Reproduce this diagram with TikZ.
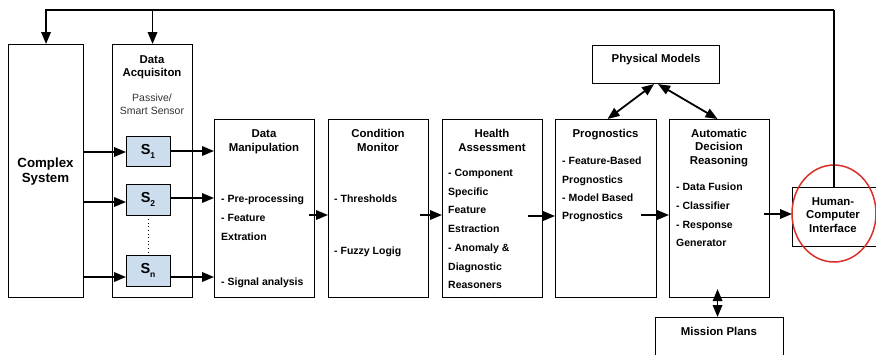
\documentclass[tikz,border=0pt]{standalone}
\usepackage{fontspec}
\setmainfont{Liberation Sans}
\usetikzlibrary{arrows.meta,shapes.geometric,calc}
\definecolor{sfill}{HTML}{CCDDEE}
\definecolor{ringred}{HTML}{D9302A}
\begin{document}
\begin{tikzpicture}[x=1pt,y=-1pt,
 box/.style={draw, line width=1.1pt, anchor=north west, inner sep=0pt},
 sbox/.style={box, fill=sfill},
 arr/.style={line width=1.8pt, -{Triangle[length=12pt,width=9.5pt]}},
 darr/.style={line width=1.8pt, {Triangle[length=12pt,width=9.5pt]}-{Triangle[length=12pt,width=9.5pt]}},
 ttl/.style={font=\bfseries\fontsize{11.4}{14}\selectfont, align=center, inner sep=0pt, anchor=north},
 bod/.style={font=\bfseries\fontsize{10.5}{18.7}\selectfont, align=left, inner sep=0pt, anchor=north west},
 slab/.style={font=\bfseries\fontsize{14.5}{14.5}\selectfont, inner sep=0pt},
]
\useasboundingbox (0,0) rectangle (876,354);
\fill[white] (0,0) rectangle (876,354);
\clip (0,0) rectangle (876,354);

% boxes
\node[box, minimum width=75, minimum height=253] (cs) at (8,44) {};
\node[box, minimum width=80, minimum height=253] (da) at (112,44) {};
\node[sbox, minimum width=44, minimum height=30] (s1) at (126,136) {};
\node[sbox, minimum width=44, minimum height=31] (s2) at (126,184) {};
\node[sbox, minimum width=44, minimum height=31] (sn) at (126,255) {};
\node[box, minimum width=100, minimum height=178] (dm) at (214,119) {};
\node[box, minimum width=100, minimum height=178] (cm) at (328,119) {};
\node[box, minimum width=100, minimum height=178] (ha) at (442,119) {};
\node[box, minimum width=101, minimum height=178] (pr) at (555,119) {};
\node[box, minimum width=100, minimum height=178] (adr) at (669,119) {};
\node[box, minimum width=127, minimum height=38] (pm) at (592,45) {};
\node[box, minimum width=128, minimum height=50] (mp) at (655,317) {};
\node[box, minimum width=100, minimum height=59] (hci) at (792,187) {};

% texts
\node[font=\bfseries\fontsize{13.3}{15}\selectfont, align=center, inner sep=0pt] (cst) at (45.5,172) {Complex\\System};
\node[ttl, font=\bfseries\fontsize{11.4}{13}\selectfont] (dat) at (152,55) {Data\\Acquisiton};
\node[font=\fontsize{10.5}{13}\selectfont, text=black!80, align=center, inner sep=0pt, anchor=north] (dap) at (152,94) {Passive/\\Smart Sensor};
\node[slab] (s1t) at (148,151) {S\raisebox{-4pt}{\fontsize{8.5}{8.5}\selectfont 1}};
\node[slab] (s2t) at (148,199.5) {S\raisebox{-4pt}{\fontsize{8.5}{8.5}\selectfont 2}};
\node[slab] (snt) at (148,270.5) {S\raisebox{-4pt}{\fontsize{8.5}{8.5}\selectfont n}};

\node[ttl] (dmt) at (264,129) {Data\\Manipulation};
\node[ttl] (cmt) at (378,129) {Condition\\Monitor};
\node[ttl] (hat) at (492,129) {Health\\Assessment};
\node[ttl] (prt) at (605.5,129) {Prognostics};
\node[ttl, font=\bfseries\fontsize{11.4}{13.5}\selectfont] (adrt) at (719,129) {Automatic\\Decision\\Reasoning};
\node[ttl, anchor=center] (pmt) at (656,60) {Physical Models};
\node[ttl, anchor=center] (mpt) at (719,331) {Mission Plans};
\node[ttl, anchor=center, font=\bfseries\fontsize{11.4}{13.5}\selectfont] (hcit) at (833,215) {Human-\\Computer\\Interface};

\node[bod] (dmb) at (221,195) {- Pre-processing\\- Feature\\Extration};
\node[bod] (dmc) at (221,278) {- Signal analysis};
\node[bod] (cmb) at (334,195) {- Thresholds};
\node[bod] (cmc) at (334,247) {- Fuzzy Logig};
\node[bod] (hab) at (448,169) {- Component\\Specific\\Feature\\Estraction\\- Anomaly \&\\Diagnostic\\Reasoners};
\node[bod, font=\bfseries\fontsize{10.5}{18.3}\selectfont] (prb) at (562,157) {- Feature-Based\\Prognostics\\- Model Based\\Prognostics};
\node[bod] (adrb) at (676,183) {- Data Fusion\\- Classifier\\- Response\\Generator};

% ring
\node[draw=ringred, line width=1.5pt, ellipse, minimum width=84, minimum height=97, inner sep=0pt] (ring) at (834,213.5) {};

% sensor arrows
\draw[arr] (cs.east |- 0,152) -- (s1.west |- 0,152);
\draw[arr] (cs.east |- 0,202) -- (s2.west |- 0,202);
\draw[arr] (cs.east |- 0,277) -- (sn.west |- 0,277);
\draw[arr] (s1.east |- 0,151) -- (dm.west |- 0,151);
\draw[arr] (s2.east |- 0,198) -- (dm.west |- 0,198);
\draw[arr] (sn.east |- 0,277) -- (dm.west |- 0,277);
\draw[line width=1pt, dash pattern=on 1pt off 2.6pt] ($(s2.south)+(0,3)$) -- ($(sn.north)+(0,-3)$);

% chain
\draw[arr] ($(dm.east |- 0,215)+(-6,0)$) -- (cm.west |- 0,215);
\draw[arr] ($(cm.east |- 0,215)+(-9,0)$) -- (ha.west |- 0,215);
\draw[arr] ($(ha.east |- 0,216)+(-15,0)$) -- (pr.west |- 0,216);
\draw[arr] ($(pr.east |- 0,215)+(-16,0)$) -- (adr.west |- 0,215);
\draw[arr] ($(adr.east |- 0,214)+(-6,0)$) -- (hci.west |- 0,214);

% physical models / mission plans
\draw[darr] ($(pm.south)+(-2,0)$) -- ($(pr.north)+(1.5,0)$);
\draw[darr] ($(pm.south)+(2,0)$) -- ($(adr.north)+(-2,0)$);
\draw[darr] ($(adr.south)+(-2,-9)$) -- ($(mp.north)+(-2,0)$);

% feedback
\coordinate (fb) at (834,10);
\draw[line width=1.8pt] (hci.north -| fb) -- (fb);
\draw[arr] (fb) -| (cs.north);
\draw[arr] (da.north |- fb) -- (da.north);
\end{tikzpicture}
\end{document}
